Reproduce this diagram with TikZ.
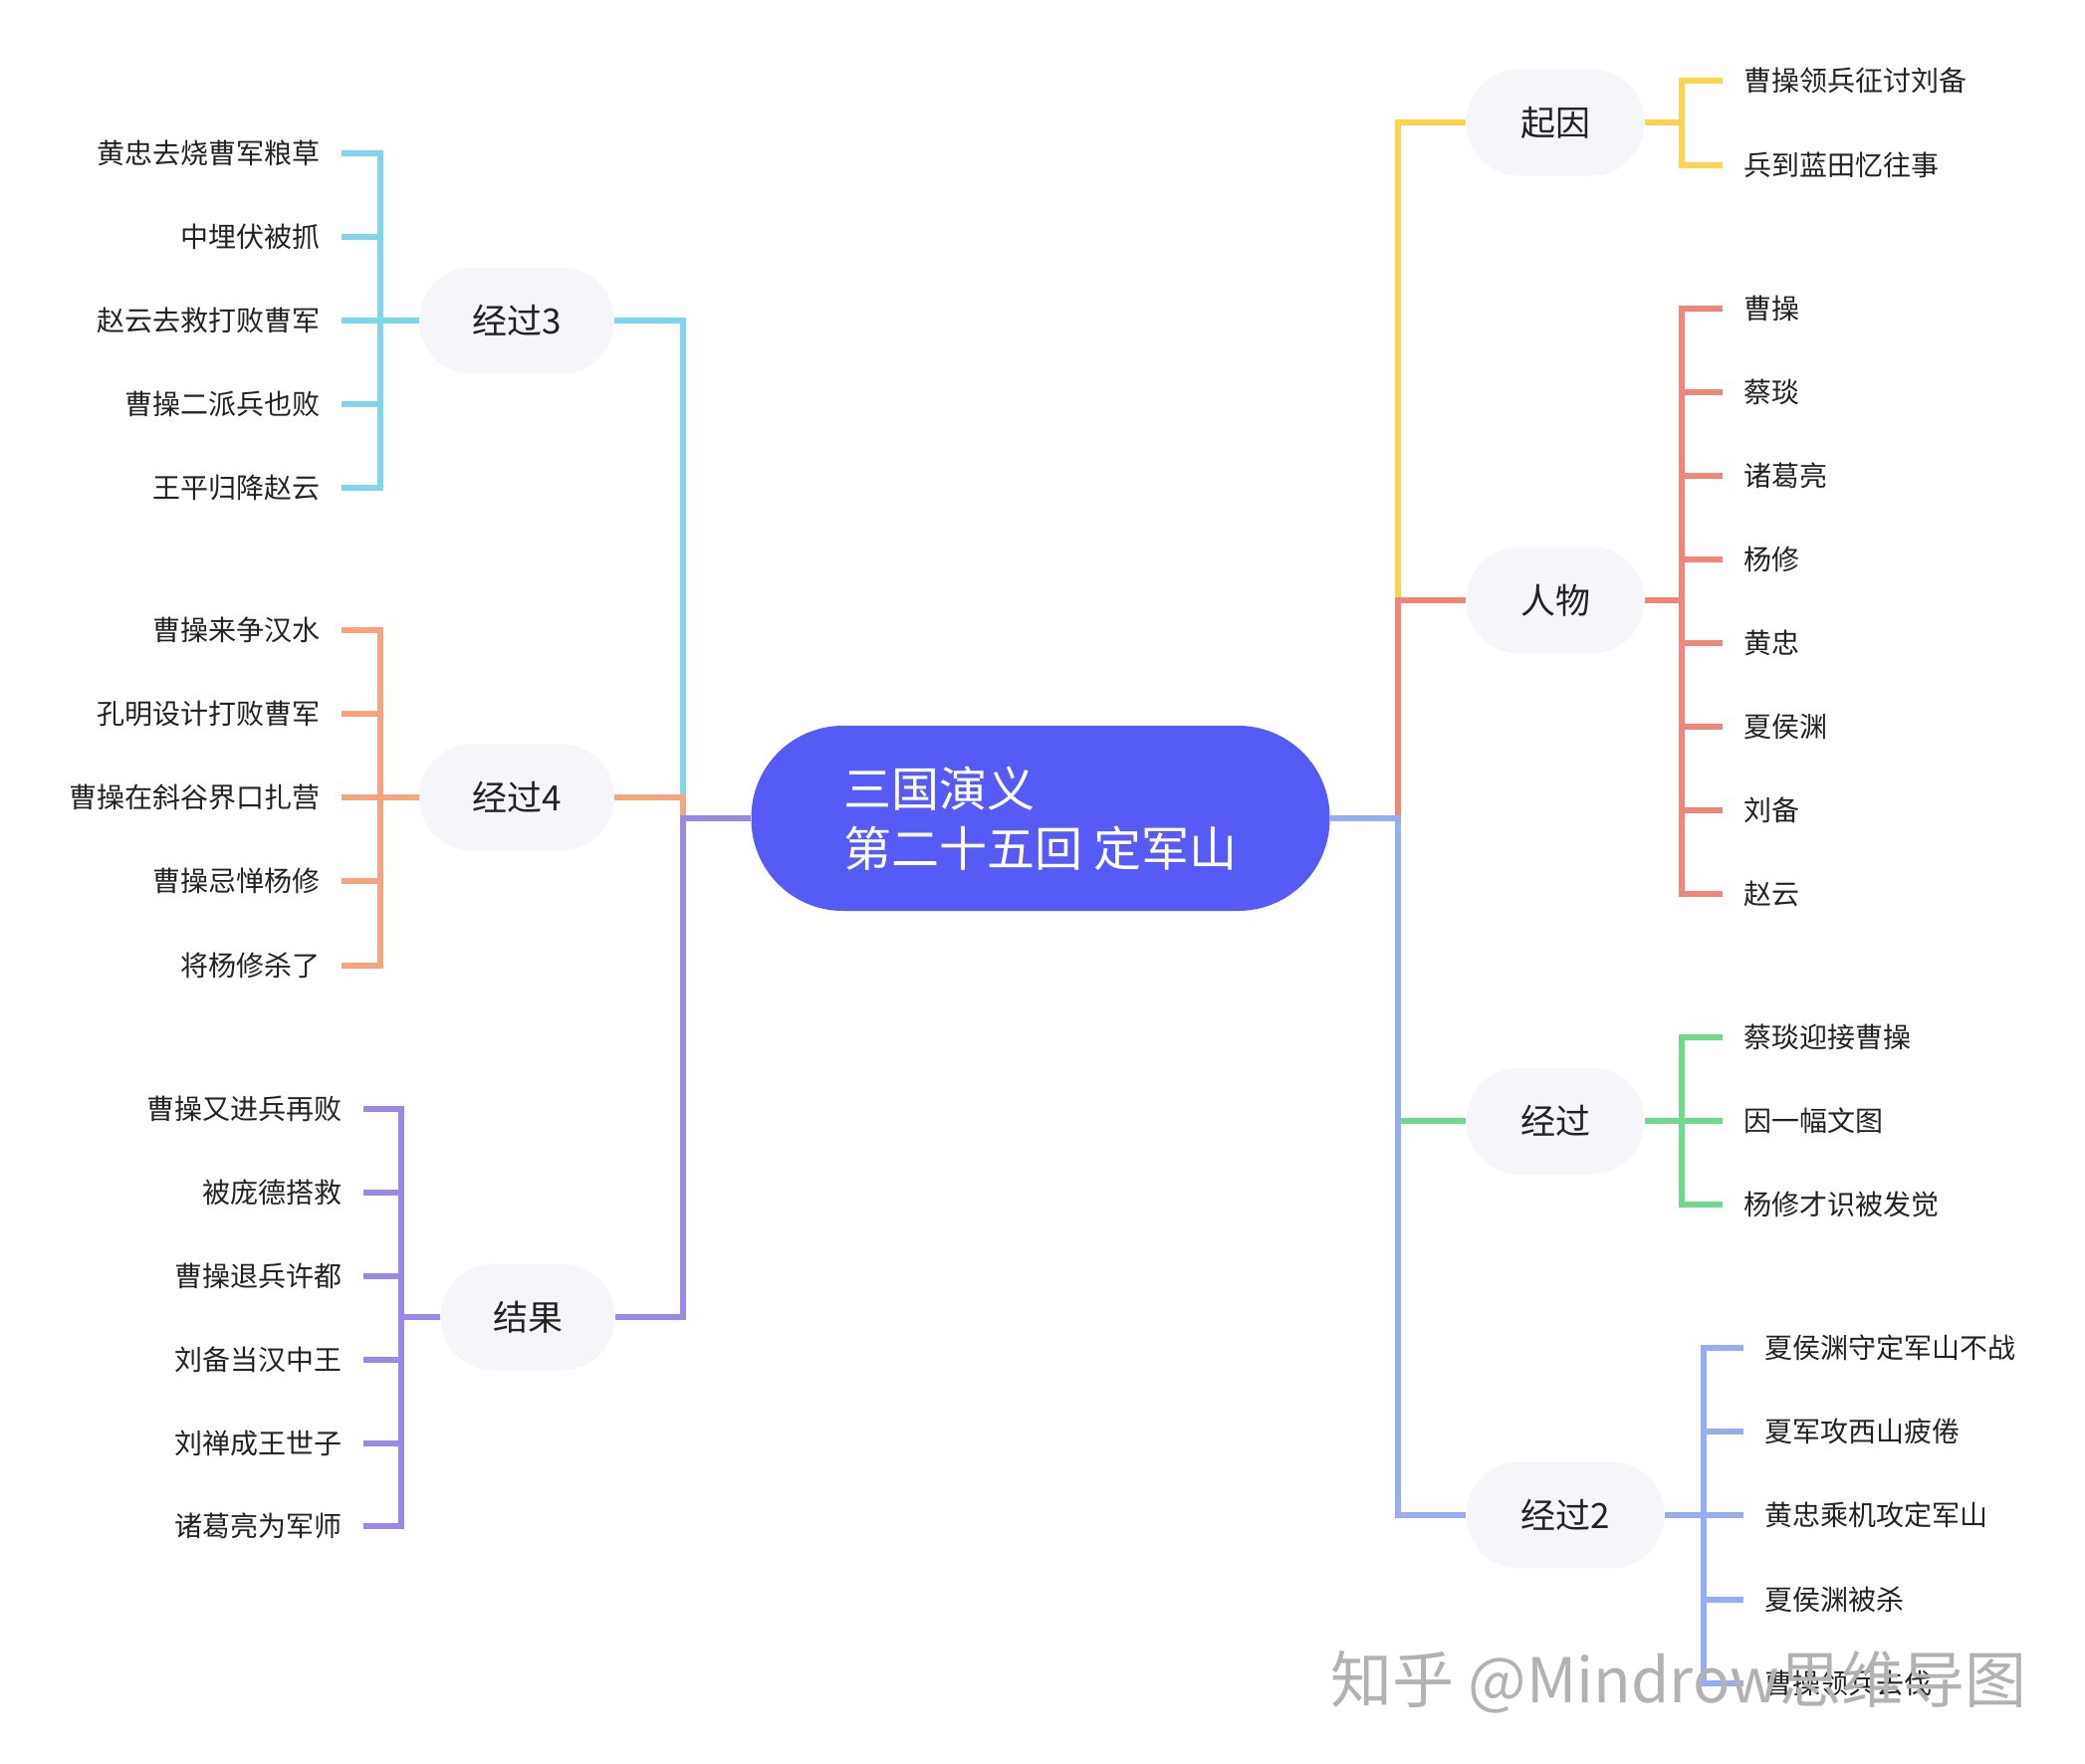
\documentclass[tikz,border=0pt]{standalone}
\usepackage{fontspec}
\setmainfont{Noto Sans CJK SC}

\definecolor{rootblue}{HTML}{575BF5}
\definecolor{pillgray}{HTML}{F6F6FA}
\definecolor{ink}{HTML}{222222}
\definecolor{cyellow}{HTML}{F9D550}
\definecolor{cred}{HTML}{F2857A}
\definecolor{cgreen}{HTML}{6EDA8C}
\definecolor{cblue}{HTML}{96ACF5}
\definecolor{ccyan}{HTML}{7ED6EC}
\definecolor{corange}{HTML}{F6A47D}
\definecolor{cpurple}{HTML}{9B88E6}

\tikzset{
  root/.style={fill=rootblue, text=white, rounded corners=46pt, minimum width=290.5pt,
    minimum height=93pt, align=left, font=\fontsize{24}{30}\selectfont},
  topic/.style={fill=pillgray, text=ink, rounded corners=26.5pt, minimum width=89.5pt,
    minimum height=53.5pt, font=\fontsize{17.5}{20}\selectfont},
  leafr/.style={anchor=west, inner xsep=10.5pt, text=ink, font=\fontsize{14}{16}\selectfont},
  leafl/.style={anchor=east, inner xsep=10.5pt, text=ink, font=\fontsize{14}{16}\selectfont},
  branch/.style={line width=2.7pt, line join=miter},
  wmark/.style={text=black!30, font=\fontsize{31}{34}\selectfont},
}

\begin{document}
\begin{tikzpicture}[x=0.5pt, y=-0.5pt]
        \useasboundingbox (0,0) rectangle (2094,1772);

        % Root
        \node[root] (root) at (1045,822) {三国演义\\第二十五回 定军山};

        % Right topics
        \node[topic] (qiyin) at (1562,123) {起因};
        \node[topic] (renwu) at (1562,603) {人物};
        \node[topic] (jingguo) at (1562,1126) {经过};
        \node[topic, minimum width=99.5pt] (jg2) at (1572,1522) {经过2};

        % Left topics
        \node[topic, minimum width=98pt] (jg3) at (519,322) {经过3};
        \node[topic, minimum width=98pt] (jg4) at (519,801) {经过4};
        \node[topic, minimum width=87.5pt] (jieguo) at (530,1323) {结果};

        % Right trunk
        \coordinate (rtrunk) at (1404,822);
        \draw[branch, cyellow] (root.east) -- (rtrunk) |- (qiyin.west);
        \draw[branch, cred] (rtrunk) |- (renwu.west);
        \draw[branch, cgreen] (rtrunk) |- (jingguo.west);
        \draw[branch, cblue] (root.east) -- (rtrunk) |- (jg2.west);

        % Left trunk
        \coordinate (ltrunk) at (686,822);
        \draw[branch, ccyan] (root.west) -- (ltrunk) |- (jg3.east);
        \draw[branch, corange] (ltrunk) |- (jg4.east);
        \draw[branch, cpurple] (root.west) -- (ltrunk) |- (jieguo.east);

        % 起因
        \node[leafr] (qy1) at (1730,81) {曹操领兵征讨刘备};
        \node[leafr] (qy2) at (1730,166) {兵到蓝田忆往事};
        \coordinate (qyb) at (1689,123);
        \draw[branch, cyellow] (qiyin.east) -- (qyb);
        \foreach \n in {qy1,qy2} \draw[branch, cyellow] (qyb) |- (\n.west);

        % 人物
        \node[leafr] (rw1) at (1730,310) {曹操};
        \node[leafr] (rw2) at (1730,394) {蔡琰};
        \node[leafr] (rw3) at (1730,478) {诸葛亮};
        \node[leafr] (rw4) at (1730,562) {杨修};
        \node[leafr] (rw5) at (1730,646) {黄忠};
        \node[leafr] (rw6) at (1730,730) {夏侯渊};
        \node[leafr] (rw7) at (1730,814) {刘备};
        \node[leafr] (rw8) at (1730,898) {赵云};
        \coordinate (rwb) at (1689,603);
        \draw[branch, cred] (renwu.east) -- (rwb);
        \foreach \n in {rw1,rw2,rw3,rw4,rw5,rw6,rw7,rw8} \draw[branch, cred] (rwb) |- (\n.west);

        % 经过
        \node[leafr] (jg1a) at (1730,1042) {蔡琰迎接曹操};
        \node[leafr] (jg1b) at (1730,1126) {因一幅文图};
        \node[leafr] (jg1c) at (1730,1210) {杨修才识被发觉};
        \coordinate (jgb) at (1689,1126);
        \draw[branch, cgreen] (jingguo.east) -- (jgb);
        \foreach \n in {jg1a,jg1b,jg1c} \draw[branch, cgreen] (jgb) |- (\n.west);

        % 经过2
        \node[leafr] (jg2a) at (1751,1354) {夏侯渊守定军山不战};
        \node[leafr] (jg2b) at (1751,1438) {夏军攻西山疲倦};
        \node[leafr] (jg2c) at (1751,1522) {黄忠乘机攻定军山};
        \node[leafr] (jg2d) at (1751,1607) {夏侯渊被杀};
        \node[leafr] (jg2e) at (1751,1691) {曹操领兵去伐};
        \coordinate (jg2b0) at (1711,1522);
        \draw[branch, cblue] (jg2.east) -- (jg2b0);
        \foreach \n in {jg2a,jg2b,jg2c,jg2d,jg2e} \draw[branch, cblue] (jg2b0) |- (\n.west);

        % 经过3
        \node[leafl] (jg3a) at (343,154) {黄忠去烧曹军粮草};
        \node[leafl] (jg3b) at (343,238) {中埋伏被抓};
        \node[leafl] (jg3c) at (343,322) {赵云去救打败曹军};
        \node[leafl] (jg3d) at (343,406) {曹操二派兵也败};
        \node[leafl] (jg3e) at (343,490) {王平归降赵云};
        \coordinate (jg3b0) at (382,322);
        \draw[branch, ccyan] (jg3.west) -- (jg3b0);
        \foreach \n in {jg3a,jg3b,jg3c,jg3d,jg3e} \draw[branch, ccyan] (jg3b0) |- (\n.east);

        % 经过4
        \node[leafl] (jg4a) at (343,633) {曹操来争汉水};
        \node[leafl] (jg4b) at (343,717) {孔明设计打败曹军};
        \node[leafl] (jg4c) at (343,801) {曹操在斜谷界口扎营};
        \node[leafl] (jg4d) at (343,885) {曹操忌惮杨修};
        \node[leafl] (jg4e) at (343,970) {将杨修杀了};
        \coordinate (jg4b0) at (382,801);
        \draw[branch, corange] (jg4.west) -- (jg4b0);
        \foreach \n in {jg4a,jg4b,jg4c,jg4d,jg4e} \draw[branch, corange] (jg4b0) |- (\n.east);

        % 结果
        \node[leafl] (jja) at (365,1114) {曹操又进兵再败};
        \node[leafl] (jjb) at (365,1198) {被庞德搭救};
        \node[leafl] (jjc) at (365,1282) {曹操退兵许都};
        \node[leafl] (jjd) at (365,1366) {刘备当汉中王};
        \node[leafl] (jje) at (365,1450) {刘禅成王世子};
        \node[leafl] (jjf) at (365,1533) {诸葛亮为军师};
        \coordinate (jjb0) at (403,1323);
        \draw[branch, cpurple] (jieguo.west) -- (jjb0);
        \foreach \n in {jja,jjb,jjc,jjd,jje,jjf} \draw[branch, cpurple] (jjb0) |- (\n.east);

        % Watermark
        \node[wmark] (wm) at (1686,1690) {知乎 @Mindrow思维导图};
\end{tikzpicture}
\end{document}
